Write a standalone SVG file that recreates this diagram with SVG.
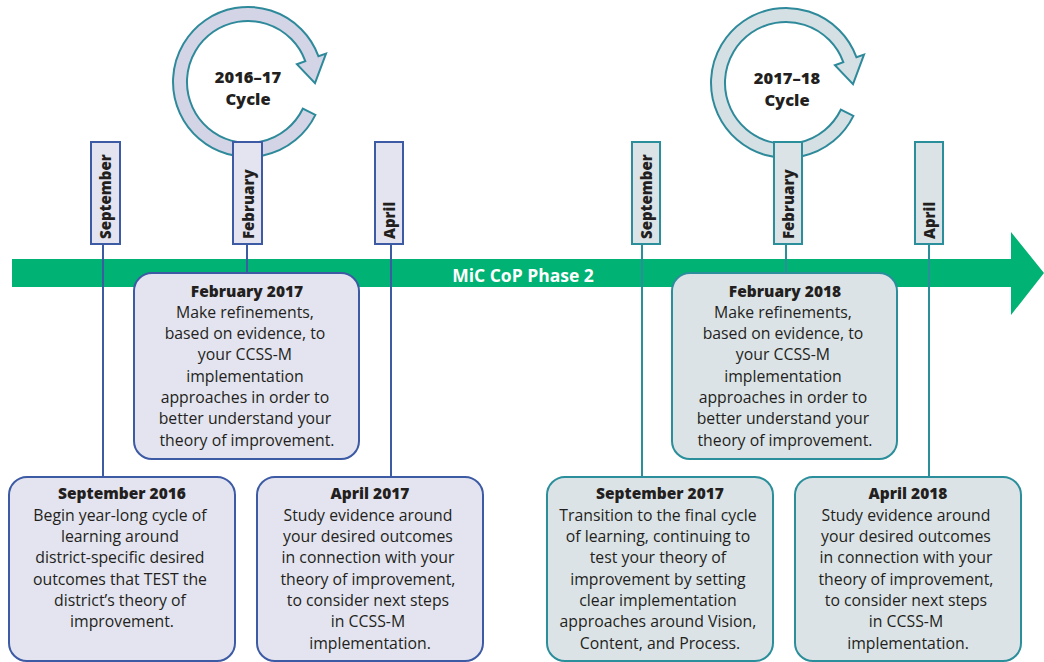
<svg xmlns="http://www.w3.org/2000/svg" width="1044" height="662" viewBox="0 0 1044 662">
<defs>
<style>
.band{fill:#00b274}
.bl{stroke:#3d5aa5;stroke-width:2;fill:none}
.tl{stroke:#2a8e9b;stroke-width:2;fill:none}
.boxb{fill:#e3e4ef;stroke:#3d5aa5;stroke-width:2}
.boxt{fill:#dce3e7;stroke:#2a8e9b;stroke-width:2}
.cycb{fill:#d3d5e6;stroke:#2e8a9a;stroke-width:2}
.cyct{fill:#d5e0e5;stroke:#2e8a9a;stroke-width:2}
text{font-family:"Open Sans","Noto Sans","Liberation Sans",sans-serif;fill:#231f20}
.mon{font-size:15px;font-weight:800}
.cyc{font-size:16.5px;font-weight:800;text-anchor:middle}
.ttl{font-size:15.5px;font-weight:800;text-anchor:middle}
.body{font-size:15.8px;text-anchor:middle}
.ph{font-size:17.5px;font-weight:700;fill:#ffffff;text-anchor:middle}
</style>
<path id="ring" d="M67.4,32.9 A75,75 0 1 1 70.5,-25.7 L78,-28.4 L67,1.2 L48.9,-17.8 L57.3,-20.9 A61,61 0 1 0 54.8,26.7 Z"/>
</defs>
<g id="phase-band">
<path class="band" d="M12,259 H1011 V232 L1044,273 L1011,315 V287 H12 Z"/>
<text class="ph" x="523" y="282">MiC CoP Phase 2</text>
</g>
<g id="connectors">
<line class="bl" x1="103" y1="244" x2="103" y2="477"/>
<line class="bl" x1="247" y1="244" x2="247" y2="273"/>
<line class="bl" x1="391" y1="244" x2="391" y2="477"/>
<line class="tl" x1="642" y1="244" x2="642" y2="477"/>
<line class="tl" x1="786" y1="244" x2="786" y2="273"/>
<line class="tl" x1="929" y1="244" x2="929" y2="477"/>
</g>
<g id="cycle-2016-17">
<use href="#ring" class="cycb" transform="translate(248,82)"/>
<text class="cyc" x="248" y="83">2016–17</text>
<text class="cyc" x="248" y="105">Cycle</text>
</g>
<g id="cycle-2017-18">
<use href="#ring" class="cyct" transform="translate(786,83)"/>
<text class="cyc" x="787" y="84">2017–18</text>
<text class="cyc" x="787" y="106">Cycle</text>
</g>
<g id="tick-sep-2016">
<rect class="boxb" x="91" y="142" width="29" height="102"/>
<text class="mon" transform="translate(110.5,239) rotate(-90)">September</text>
</g>
<g id="tick-feb-2017">
<rect class="boxb" x="233" y="142" width="29" height="102"/>
<text class="mon" transform="translate(253.5,239) rotate(-90)">February</text>
</g>
<g id="tick-apr-2017">
<rect class="boxb" x="375" y="142" width="28" height="102"/>
<text class="mon" transform="translate(394.5,239) rotate(-90)">April</text>
</g>
<g id="tick-sep-2017">
<rect class="boxt" x="632" y="142" width="28" height="102"/>
<text class="mon" transform="translate(651.5,239) rotate(-90)">September</text>
</g>
<g id="tick-feb-2018">
<rect class="boxt" x="774" y="142" width="28" height="102"/>
<text class="mon" transform="translate(793.5,239) rotate(-90)">February</text>
</g>
<g id="tick-apr-2018">
<rect class="boxt" x="915" y="142" width="28" height="102"/>
<text class="mon" transform="translate(934.5,239) rotate(-90)">April</text>
</g>
<g id="box-feb-2017">
<rect class="boxb" x="134" y="273" width="225" height="186" rx="18"/>
<text class="ttl" x="247" y="297">February 2017</text>
<text class="body" x="247" y="317">
<tspan x="247" y="318">Make refinements,</tspan>
<tspan x="247" y="339">based on evidence, to</tspan>
<tspan x="247" y="360">your CCSS-M</tspan>
<tspan x="247" y="382">implementation</tspan>
<tspan x="247" y="403">approaches in order to</tspan>
<tspan x="247" y="424">better understand your</tspan>
<tspan x="247" y="446">theory of improvement.</tspan>
</text>
</g>
<g id="box-feb-2018">
<rect class="boxt" x="672" y="273" width="225" height="186" rx="18"/>
<text class="ttl" x="785" y="297">February 2018</text>
<text class="body" x="785" y="317">
<tspan x="785" y="318">Make refinements,</tspan>
<tspan x="785" y="339">based on evidence, to</tspan>
<tspan x="785" y="360">your CCSS-M</tspan>
<tspan x="785" y="382">implementation</tspan>
<tspan x="785" y="403">approaches in order to</tspan>
<tspan x="785" y="424">better understand your</tspan>
<tspan x="785" y="446">theory of improvement.</tspan>
</text>
</g>
<g id="box-sep-2016">
<rect class="boxb" x="9" y="477" width="226" height="184" rx="18"/>
<text class="ttl" x="122" y="499">September 2016</text>
<text class="body" x="122" y="520">
<tspan x="122" y="521">Begin year-long cycle of</tspan>
<tspan x="122" y="542">learning around</tspan>
<tspan x="122" y="563">district-specific desired</tspan>
<tspan x="122" y="585">outcomes that TEST the</tspan>
<tspan x="122" y="606">district’s theory of</tspan>
<tspan x="122" y="627">improvement.</tspan>
</text>
</g>
<g id="box-apr-2017">
<rect class="boxb" x="257" y="477" width="226" height="184" rx="18"/>
<text class="ttl" x="370" y="499">April 2017</text>
<text class="body" x="370" y="520">
<tspan x="370" y="521">Study evidence around</tspan>
<tspan x="370" y="542">your desired outcomes</tspan>
<tspan x="370" y="563">in connection with your</tspan>
<tspan x="370" y="585">theory of improvement,</tspan>
<tspan x="370" y="606">to consider next steps</tspan>
<tspan x="370" y="627">in CCSS-M</tspan>
<tspan x="370" y="649">implementation.</tspan>
</text>
</g>
<g id="box-sep-2017">
<rect class="boxt" x="547" y="477" width="226" height="184" rx="18"/>
<text class="ttl" x="660" y="499">September 2017</text>
<text class="body" x="660" y="520">
<tspan x="660" y="521">Transition to the final cycle</tspan>
<tspan x="660" y="542">of learning, continuing to</tspan>
<tspan x="660" y="563">test your theory of</tspan>
<tspan x="660" y="585">improvement by setting</tspan>
<tspan x="660" y="606">clear implementation</tspan>
<tspan x="660" y="627">approaches around Vision,</tspan>
<tspan x="660" y="649">Content, and Process.</tspan>
</text>
</g>
<g id="box-apr-2018">
<rect class="boxt" x="795" y="477" width="226" height="184" rx="18"/>
<text class="ttl" x="908" y="499">April 2018</text>
<text class="body" x="908" y="520">
<tspan x="908" y="521">Study evidence around</tspan>
<tspan x="908" y="542">your desired outcomes</tspan>
<tspan x="908" y="563">in connection with your</tspan>
<tspan x="908" y="585">theory of improvement,</tspan>
<tspan x="908" y="606">to consider next steps</tspan>
<tspan x="908" y="627">in CCSS-M</tspan>
<tspan x="908" y="649">implementation.</tspan>
</text>
</g>
</svg>
